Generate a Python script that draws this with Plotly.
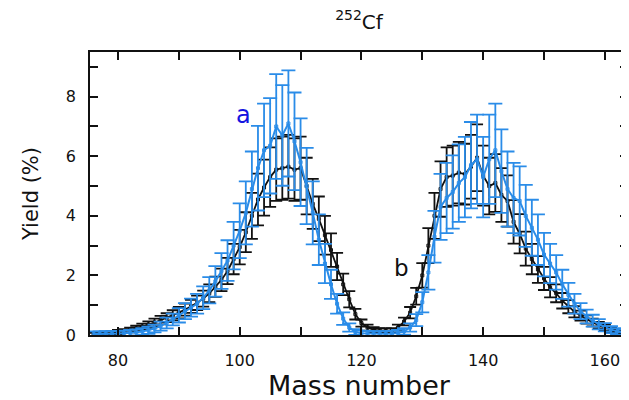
import plotly.graph_objects as go

mass = list(range(76, 164))

yield_b = [0.02, 0.03, 0.05, 0.07, 0.10, 0.13, 0.17, 0.22, 0.28, 0.35,
           0.42, 0.50, 0.58, 0.66, 0.75, 0.85, 0.96, 1.08, 1.22, 1.40,
           1.62, 1.85, 2.15, 2.55, 2.95, 3.45, 4.00, 4.55, 4.95, 5.30,
           5.55, 5.60, 5.65, 5.55, 5.60, 5.00, 4.40, 3.90, 3.35, 2.85,
           2.30, 1.70, 1.20, 0.70, 0.40, 0.25, 0.18, 0.15, 0.14, 0.15,
           0.25, 0.45, 0.75, 1.30, 2.00, 3.00, 4.00, 4.90, 5.30, 5.35,
           5.45, 5.40, 5.65, 5.95, 5.35, 5.00, 5.10, 4.70, 4.50, 3.80,
           3.40, 2.90, 2.55, 2.20, 1.90, 1.60, 1.40, 1.15, 0.95, 0.78,
           0.65, 0.52, 0.42, 0.33, 0.25, 0.18, 0.12, 0.08]
err_b = [0.05, 0.05, 0.06, 0.06, 0.07, 0.07, 0.08, 0.09, 0.10, 0.11,
         0.13, 0.14, 0.15, 0.17, 0.19, 0.20, 0.22, 0.24, 0.27, 0.30,
         0.34, 0.38, 0.44, 0.51, 0.58, 0.67, 0.77, 0.87, 0.94, 1.00,
         1.05, 1.06, 1.07, 1.05, 1.06, 0.95, 0.84, 0.75, 0.65, 0.56,
         0.46, 0.36, 0.27, 0.18, 0.12, 0.10, 0.08, 0.08, 0.08, 0.08,
         0.10, 0.13, 0.19, 0.28, 0.41, 0.59, 0.77, 0.93, 1.00, 1.01,
         1.03, 1.02, 1.07, 1.12, 1.01, 0.95, 0.97, 0.90, 0.86, 0.73,
         0.66, 0.57, 0.51, 0.45, 0.39, 0.34, 0.30, 0.26, 0.22, 0.19,
         0.17, 0.14, 0.13, 0.11, 0.10, 0.08, 0.07, 0.06]

yield_a = [0.03, 0.03, 0.04, 0.04, 0.05, 0.06, 0.07, 0.09, 0.12, 0.16,
           0.22, 0.30, 0.40, 0.52, 0.66, 0.80, 0.92, 1.05, 1.25, 1.50,
           1.80, 2.15, 2.50, 3.00, 3.50, 4.10, 4.90, 5.60, 6.20, 6.35,
           7.00, 6.70, 7.10, 6.50, 5.80, 5.00, 4.10, 3.20, 2.40, 1.70,
           1.05, 0.55, 0.25, 0.10, 0.06, 0.05, 0.04, 0.04, 0.04, 0.05,
           0.07, 0.12, 0.25, 0.50, 1.10, 2.10, 3.30, 4.30, 4.60, 4.80,
           5.10, 5.30, 5.70, 5.90, 5.30, 5.90, 6.20, 5.50, 4.90, 4.60,
           4.50, 4.00, 3.60, 3.20, 2.70, 2.40, 2.10, 1.70, 1.35, 1.05,
           0.80, 0.62, 0.48, 0.36, 0.26, 0.18, 0.12, 0.08]
err_a = [0.09, 0.09, 0.09, 0.09, 0.09, 0.09, 0.10, 0.10, 0.11, 0.12,
         0.13, 0.15, 0.18, 0.20, 0.24, 0.27, 0.30, 0.33, 0.38, 0.44,
         0.51, 0.60, 0.68, 0.80, 0.92, 1.06, 1.26, 1.42, 1.57, 1.60,
         1.76, 1.69, 1.78, 1.64, 1.47, 1.28, 1.06, 0.85, 0.66, 0.49,
         0.33, 0.21, 0.14, 0.10, 0.09, 0.09, 0.09, 0.09, 0.09, 0.09,
         0.10, 0.11, 0.14, 0.20, 0.34, 0.58, 0.87, 1.11, 1.18, 1.23,
         1.30, 1.35, 1.45, 1.50, 1.35, 1.50, 1.57, 1.40, 1.26, 1.18,
         1.16, 1.04, 0.94, 0.85, 0.73, 0.66, 0.58, 0.49, 0.40, 0.33,
         0.27, 0.23, 0.20, 0.17, 0.14, 0.12, 0.11, 0.10]

x_ticks = [80, 100, 120, 140, 160]
y_ticks = [0, 2, 4, 6, 8]

BLACK = "#111111"
BLUE = "#2a8ce8"
FONT = "DejaVu Sans"

fig = go.Figure()
fig.add_trace(go.Scatter(
    x=mass, y=yield_b, mode="lines+markers",
    line=dict(color=BLACK, width=1.8),
    marker=dict(symbol="square-open", size=3, color=BLACK),
    error_y=dict(type="data", array=err_b, visible=True,
                 color=BLACK, thickness=1.8, width=6),
    showlegend=False))
fig.add_trace(go.Scatter(
    x=mass, y=yield_a, mode="lines+markers",
    line=dict(color=BLUE, width=2),
    marker=dict(symbol="square-open", size=3, color=BLUE),
    error_y=dict(type="data", array=err_a, visible=True,
                 color=BLUE, thickness=1.8, width=7),
    showlegend=False))

fig.add_annotation(x=100.7, y=7.4, text="a", showarrow=False,
                   font=dict(family=FONT, size=24, color="#1414e0"))
fig.add_annotation(x=126.6, y=2.25, text="b", showarrow=False,
                   font=dict(family=FONT, size=23, color=BLACK))

axis_common = dict(
    showgrid=False, zeroline=False, showline=True, linecolor=BLACK,
    linewidth=1.5, mirror="ticks", ticks="inside", ticklen=8,
    tickwidth=1.5, tickcolor=BLACK, automargin=False,
    tickfont=dict(family=FONT, size=16, color=BLACK),
)

fig.update_layout(
    width=629, height=400,
    margin=dict(l=82, r=9, t=44, b=73),
    plot_bgcolor="white", paper_bgcolor="white",
    title=dict(text="<sup>252</sup>Cf", x=0.5, xref="paper", xanchor="center",
               y=0.966, yanchor="middle",
               font=dict(family=FONT, size=20, color=BLACK)),
    xaxis=dict(**axis_common, range=[75.4, 163.8], tickvals=x_ticks,
               ticklabelstandoff=10,
               minor=dict(dtick=10, ticks="inside", ticklen=8, tickwidth=1.5,
                          tickcolor=BLACK),
               title=dict(text="Mass number", standoff=3,
                          font=dict(family=FONT, size=27, color=BLACK))),
    yaxis=dict(**axis_common, range=[0, 9.5], tickvals=y_ticks,
               ticklabelstandoff=9,
               minor=dict(dtick=1, ticks="inside", ticklen=8, tickwidth=1.5,
                          tickcolor=BLACK),
               title=dict(text="Yield (%)", standoff=22,
                          font=dict(family=FONT, size=21, color=BLACK))),
)

fig.write_html("out.html")
